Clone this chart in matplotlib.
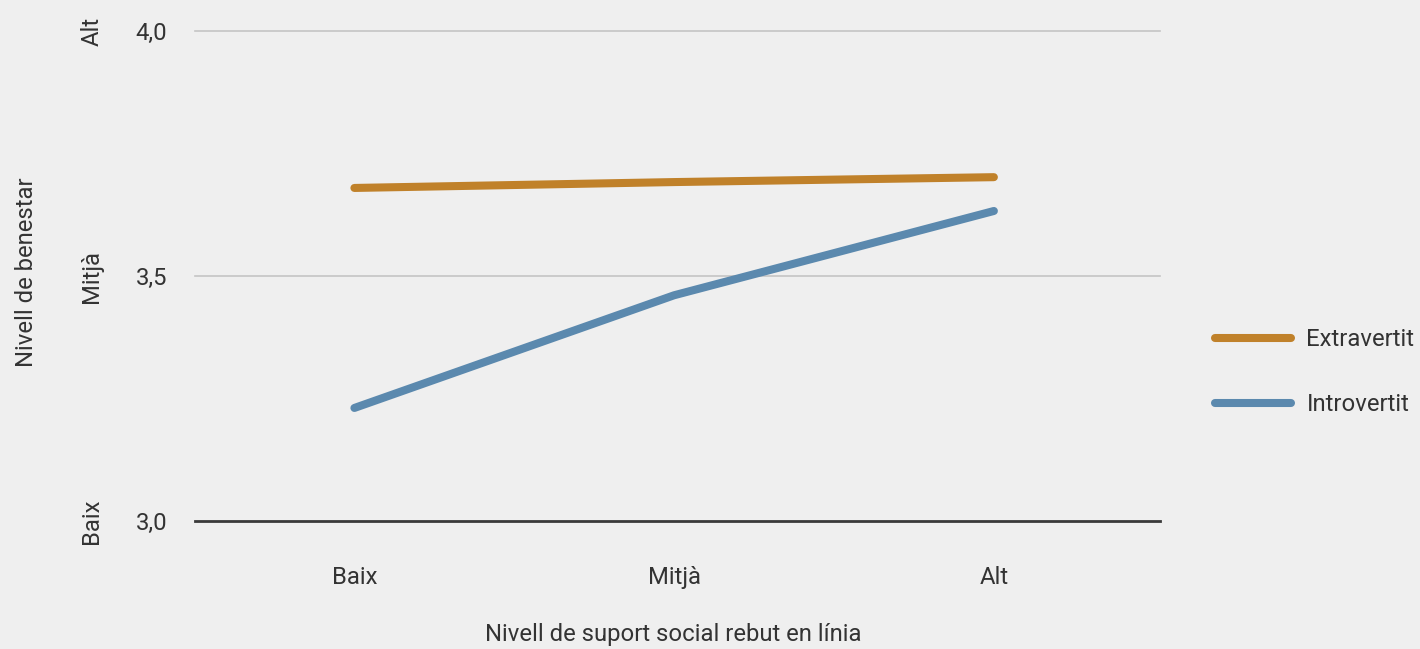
import matplotlib.pyplot as plt
from matplotlib.lines import Line2D

# Nivell de benestar segons suport social rebut en línia
categories = ["Baix", "Mitjà", "Alt"]
extravertit = [3.68, 3.692, 3.702]
introvertit = [3.231, 3.461, 3.633]
y_ticks = [3.0, 3.5, 4.0]
y_tick_labels = ["3,0", "3,5", "4,0"]
y_level_labels = ["Baix", "Mitjà", "Alt"]

BG = "#efefef"
ORANGE = "#c0812a"
BLUE = "#5b89ae"
TEXT = "#333333"
FS = 17.2

plt.rcParams["font.family"] = ["Roboto", "DejaVu Sans"]


def draw_chart():
    fig = plt.figure(figsize=(14.2, 6.49), dpi=100, facecolor=BG)
    ax = fig.add_axes([0.137, 0.197, 0.68, 0.755], facecolor=BG)

    x = range(len(categories))
    ax.plot(x, extravertit, color=ORANGE, lw=5.8, solid_capstyle="round", zorder=3)
    ax.plot(x, introvertit, color=BLUE, lw=5.8, solid_capstyle="round", zorder=3)

    ax.set_xlim(-0.5, 2.52)
    ax.set_ylim(3.0, 4.0)

    # gridlines, darker baseline
    for yv in y_ticks[1:]:
        ax.axhline(yv, color="#c4c4c4", lw=1.2, zorder=1, clip_on=False)
    ax.axhline(3.0, color="#3a3a3a", lw=2, zorder=2, clip_on=False)

    for s in ax.spines.values():
        s.set_visible(False)

    ax.set_xticks(list(x))
    ax.set_xticklabels(categories, fontsize=FS, color=TEXT)
    ax.set_yticks(y_ticks)
    ax.set_yticklabels(y_tick_labels, fontsize=FS, color=TEXT)
    ax.tick_params(length=0, axis="x", pad=32.5)
    ax.tick_params(length=0, axis="y", pad=19.5)

    for yv, lab in zip(y_ticks, y_level_labels):
        ax.annotate(lab, xy=(0, yv), xycoords=("axes fraction", "data"),
                    xytext=(-74, 0), textcoords="offset points",
                    rotation=90, ha="center", va="center",
                    fontsize=FS, color=TEXT)

    fig.text(0.019, 0.581, "Nivell de benestar", rotation=90,
             ha="center", va="center", fontsize=FS, color=TEXT)
    fig.text(0.474, 0.022, "Nivell de suport social rebut en línia",
             ha="center", va="center", fontsize=FS, color=TEXT)

    handles = [
        Line2D([0], [0], color=ORANGE, lw=5.8, solid_capstyle="round"),
        Line2D([0], [0], color=BLUE, lw=5.8, solid_capstyle="round"),
    ]
    fig.legend(handles, ["Extravertit", "Introvertit"],
               loc="center left", bbox_to_anchor=(0.8475, 0.4265),
               frameon=False, fontsize=FS, handlelength=3.15, borderpad=0,
               handletextpad=0.66, labelspacing=1.75, labelcolor=TEXT)

    fig.savefig("out.png", dpi=100, facecolor=BG)


if __name__ == "__main__":
    draw_chart()
